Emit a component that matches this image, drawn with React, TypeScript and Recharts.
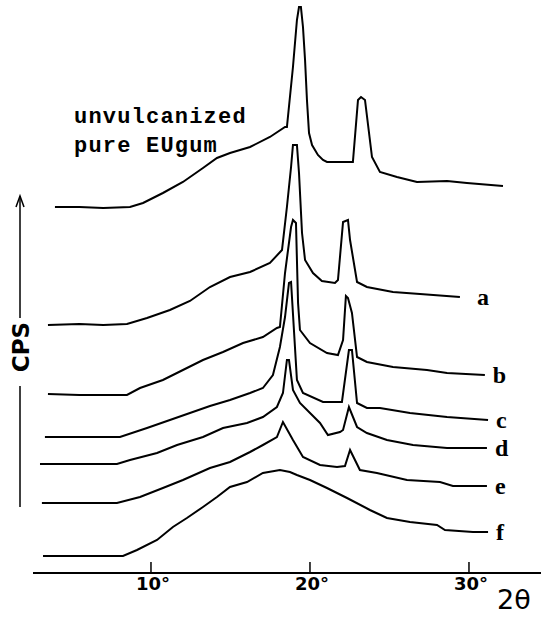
import React from 'react';
import { LineChart, Line, XAxis, YAxis } from 'recharts';

// x = 2θ in degrees, v = trace height above the axis (arbitrary units, stacked offsets)
const pureGum = [
  [3.96, 366], [5.5, 366], [7.0, 365], [8.68, 366], [9.5, 370], [10.75, 380], [12.01, 391],
  [13.27, 405], [14.15, 415], [14.97, 420], [16.23, 426], [17.48, 436], [18.43, 446], [18.55, 446],
  [18.93, 506], [19.18, 553], [19.31, 566], [19.43, 566], [19.56, 546], [19.69, 513], [19.81, 473],
  [19.94, 440], [20.13, 428], [20.5, 418], [20.82, 413], [21.07, 411], [22.7, 411], [23.02, 473],
  [23.21, 476], [23.46, 473], [23.9, 416], [24.4, 401], [25.47, 396], [26.73, 391], [28.62, 392],
  [29.87, 390], [32.14, 387],
];
const curveA = [
  [3.52, 248], [5.5, 249], [7.0, 248], [8.49, 249], [9.75, 255], [11.19, 263], [12.45, 272],
  [13.71, 286], [14.97, 296], [16.23, 301], [17.48, 310], [18.24, 323], [18.55, 366], [18.81, 406],
  [18.93, 428], [19.18, 428], [19.31, 400], [19.5, 340], [19.69, 313], [20.19, 300], [20.75, 292],
  [21.57, 290], [21.76, 293], [22.08, 351], [22.39, 353], [22.52, 333], [22.96, 291], [23.58, 286],
  [25.22, 281], [26.92, 279], [29.43, 276],
];
const curveB = [
  [3.52, 179], [5.5, 178], [7.0, 178], [8.49, 178], [9.31, 185], [10.75, 193], [12.01, 203],
  [13.27, 213], [14.53, 221], [15.79, 230], [17.04, 236], [17.92, 245], [18.11, 246], [18.43, 300],
  [18.81, 346], [18.93, 353], [19.12, 350], [19.25, 270], [19.37, 243], [20.0, 230], [21.07, 220],
  [21.76, 218], [22.08, 233], [22.26, 277], [22.39, 275], [22.64, 260], [22.96, 216], [23.58, 211],
  [25.22, 206], [27.36, 203], [28.62, 200], [31.0, 198],
];
const curveC = [
  [3.33, 136], [5.5, 136], [7.0, 136], [8.05, 136], [9.75, 145], [11.19, 153], [12.45, 160],
  [13.71, 167], [14.97, 173], [16.23, 180], [17.04, 185], [17.67, 198], [18.11, 226], [18.43, 256],
  [18.68, 290], [18.81, 291], [19.18, 193], [19.56, 180], [20.82, 171], [22.01, 171], [22.45, 223],
  [22.64, 223], [22.96, 170], [23.58, 165], [24.4, 165], [26.29, 160], [28.62, 156], [31.2, 153],
];
const curveD = [
  [3.02, 109], [5.5, 109], [7.86, 109], [8.68, 113], [10.38, 120], [11.64, 128], [13.27, 136],
  [14.53, 145], [16.04, 150], [17.04, 156], [17.92, 166], [18.3, 180], [18.55, 213], [18.68, 213],
  [18.93, 183], [19.37, 170], [20.63, 150], [21.13, 138], [21.89, 141], [22.08, 143], [22.45, 166],
  [22.96, 146], [23.58, 140], [24.84, 133], [26.48, 128], [28.62, 125], [31.13, 125],
];
const curveE = [
  [3.14, 70], [5.5, 70], [7.86, 70], [9.31, 76], [10.75, 85], [12.01, 93], [13.71, 105],
  [14.97, 111], [16.23, 121], [17.04, 128], [17.92, 136], [18.3, 151], [18.93, 133], [19.56, 116],
  [20.63, 108], [21.7, 106], [22.2, 107], [22.52, 123], [23.14, 103], [24.21, 100], [26.1, 93],
  [28.18, 91], [28.99, 87], [31.13, 87],
];
const curveF = [
  [3.21, 17], [5.5, 17], [8.24, 17], [9.12, 23], [10.38, 33], [11.38, 46], [12.26, 55],
  [13.27, 66], [14.15, 76], [14.97, 86], [16.04, 91], [17.04, 100], [18.11, 103], [18.74, 101],
  [19.18, 98], [20.0, 93], [21.07, 85], [22.33, 75], [23.77, 63], [24.84, 55], [26.29, 51],
  [27.99, 48], [28.49, 43], [30.25, 41], [31.2, 41],
];

const xTicks = [10, 20, 30];
const curveNames = ['', 'a', 'b', 'c', 'd', 'e', 'f'];
const curves = [pureGum, curveA, curveB, curveC, curveD, curveE, curveF];

const toPts = (rows: number[][]) => rows.map(([x, v]) => ({ x, v }));

const DegTick = (props: any) => {
  const { x, y, payload } = props;
  return (
    <g>
      <line x1={x} x2={x} y1={y - 11} y2={y} stroke="#000" strokeWidth={1.5} />
      <text x={x + 2} y={y + 17} textAnchor="middle" fontFamily="DejaVu Sans" fontWeight="bold" fontSize={18} fill="#000">
        {payload.value}°
      </text>
    </g>
  );
};

const endLabel = (name: string, last: number) => (props: any) => {
  if (!name || props.index !== last) return null;
  const gap = name === 'a' ? 17 : 8;
  return (
    <text key={name} x={props.x + gap} y={props.y + 8} fontFamily="Liberation Serif" fontWeight="bold" fontSize={24} fill="#000">
      {name}
    </text>
  );
};

export default function App() {
  return (
    <div style={{ position: 'relative', width: 541, height: 618, background: '#fff' }}>
      <style>{`body{margin:0;overflow:hidden}`}</style>
      <LineChart width={541} height={618} margin={{ top: 0, right: 0, bottom: 15, left: 33 }}>
        <XAxis
          dataKey="x"
          type="number"
          domain={[2.58, 34.53]}
          ticks={xTicks}
          allowDataOverflow
          height={30}
          axisLine={{ stroke: '#000', strokeWidth: 2 }}
          tickLine={false}
          tickSize={0}
          tickMargin={0}
          tick={<DegTick />}
        />
        <YAxis hide domain={[0, 573]} />
        {curves.map((rows, i) => (
          <Line
            key={i}
            data={toPts(rows)}
            dataKey="v"
            type="linear"
            stroke="#000"
            strokeWidth={2}
            dot={false}
            isAnimationActive={false}
            label={endLabel(curveNames[i], rows.length - 1)}
          />
        ))}
      </LineChart>
      <svg width={541} height={618} style={{ position: 'absolute', left: 0, top: 0, pointerEvents: 'none' }}>
        <line x1={20} x2={20} y1={196} y2={318} stroke="#000" strokeWidth={1.5} />
        <polyline points="16,207 20,196 24,207" fill="none" stroke="#000" strokeWidth={1.5} />
        <line x1={20} x2={20} y1={386} y2={507} stroke="#000" strokeWidth={1.5} />
        <text x={0} y={0} transform="translate(29,347) rotate(-90)" textAnchor="middle" fontFamily="DejaVu Sans" fontWeight="bold" fontSize={23} fill="#000">
          CPS
        </text>
        <text x={74} y={123} fontFamily="Liberation Mono" fontWeight="bold" fontSize={22} letterSpacing={1.2} fill="#000">
          unvulcanized
        </text>
        <text x={74} y={152} fontFamily="Liberation Mono" fontWeight="bold" fontSize={22} letterSpacing={1.2} fill="#000">
          pure EUgum
        </text>
        <text x={497} y={609} fontFamily="DejaVu Sans" fontSize={27} fill="#000">
          2θ
        </text>
      </svg>
    </div>
  );
}
